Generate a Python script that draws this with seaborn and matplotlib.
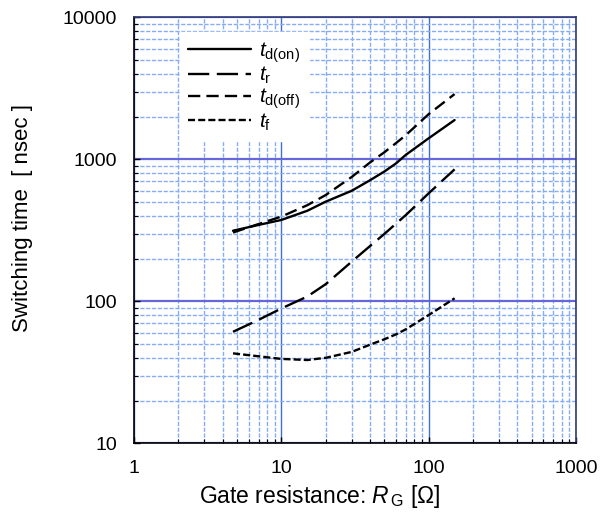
import matplotlib
matplotlib.use("Agg")
import matplotlib.pyplot as plt
import matplotlib.ticker as mticker
import numpy as np
import pandas as pd
import seaborn as sns

# gate resistance [ohm]
rg = [4.7, 7, 10, 15, 20, 30, 40, 50, 60, 70, 100, 150]
# switching times [ns]
td_on = [314, 345, 374, 434, 503, 600, 712, 820, 935, 1075, 1406, 1890]
tr = [61, 74, 89, 108, 132, 190, 245, 298, 352, 405, 576, 850]
td_off = [305, 350, 395, 475, 560, 750, 950, 1120, 1300, 1480, 2080, 2880]
tf = [43, 41, 39.3, 38.6, 40, 44, 49.5, 54, 58.5, 63.5, 80, 105]

series_names = ["td(on)", "tr", "td(off)", "tf"]
series_labels = [r"$t_{\mathrm{d(on)}}$", r"$t_{\mathrm{r}}$",
                 r"$t_{\mathrm{d(off)}}$", r"$t_{\mathrm{f}}$"]
x_ticks = [1, 10, 100, 1000]
y_ticks = [10, 100, 1000, 10000]

df = pd.DataFrame({
    "rg": rg * 4,
    "t": td_on + tr + td_off + tf,
    "series": np.repeat(series_names, len(rg)),
})

sns.set_theme(style="white")
plt.rcParams["font.family"] = ["Liberation Sans", "DejaVu Sans"]
plt.rcParams["mathtext.fontset"] = "custom"
plt.rcParams["mathtext.rm"] = "Liberation Sans"
plt.rcParams["mathtext.it"] = "Liberation Sans:italic"
plt.rcParams["text.color"] = "black"
plt.rcParams["axes.labelcolor"] = "black"

fig = plt.figure(figsize=(6.11, 5.18), dpi=100)
ax = fig.add_axes([0.2193, 0.1442, 0.7234, 0.8224])

dash_map = {"td(on)": "", "tr": (9, 3.2), "td(off)": (5.2, 2.6), "tf": (3, 1.3)}
sns.lineplot(data=df, x="rg", y="t", style="series", style_order=series_names,
             dashes=dash_map, color="black", linewidth=1.7, legend=False,
             ax=ax, estimator=None, sort=False)

ax.set_xscale("log")
ax.set_yscale("log")
ax.set_xlim(1, 1000)
ax.set_ylim(10, 10000)

ax.xaxis.set_major_locator(mticker.FixedLocator(x_ticks))
ax.yaxis.set_major_locator(mticker.FixedLocator(y_ticks))
ax.set_xticklabels([str(v) for v in x_ticks])
ax.set_yticklabels([str(v) for v in y_ticks])
ax.xaxis.set_minor_locator(mticker.LogLocator(base=10, subs=np.arange(2, 10)))
ax.yaxis.set_minor_locator(mticker.LogLocator(base=10, subs=np.arange(2, 10)))
ax.xaxis.set_minor_formatter(mticker.NullFormatter())
ax.yaxis.set_minor_formatter(mticker.NullFormatter())

ax.tick_params(which="both", direction="in", labelsize=14, pad=12,
               colors="black", labelcolor="black", left=True, bottom=True)
ax.tick_params(which="major", length=4, width=1)
ax.tick_params(which="minor", length=3, width=0.8)

# grid: minor light dashed blue, major stronger
ax.set_axisbelow(True)
ax.grid(which="minor", color="#86acf4", linestyle=(0, (3, 1.2)), linewidth=1.0)
ax.xaxis.grid(which="major", color="#3f6fd8", linestyle="-", linewidth=1.0)
ax.yaxis.grid(which="major", color="#6767dc", linestyle="-", linewidth=1.6)

for side in ["left", "bottom"]:
    ax.spines[side].set_color("black")
    ax.spines[side].set_linewidth(1.2)
for side in ["top", "right"]:
    ax.spines[side].set_color("#2e3a78")
    ax.spines[side].set_linewidth(1.2)

ax.set_xlabel(r"Gate resistance: $R_{\,\mathrm{G}}$ [Ω]", fontsize=16.5)
ax.set_ylabel("Switching time  [ nsec ]", fontsize=16)
ax.xaxis.set_label_coords(0.42, -0.093)
ax.yaxis.set_label_coords(-0.2285, 0.529)

leg = ax.legend(handles=ax.lines[:4], labels=series_labels, loc="upper left",
                bbox_to_anchor=(0.104, 0.966), borderaxespad=0, fontsize=15,
                frameon=True, facecolor="white", edgecolor="white",
                framealpha=1, fancybox=False, handlelength=3.0,
                handletextpad=0.41, labelspacing=0.02, borderpad=0.4)

fig.savefig("out.png", dpi=100)
